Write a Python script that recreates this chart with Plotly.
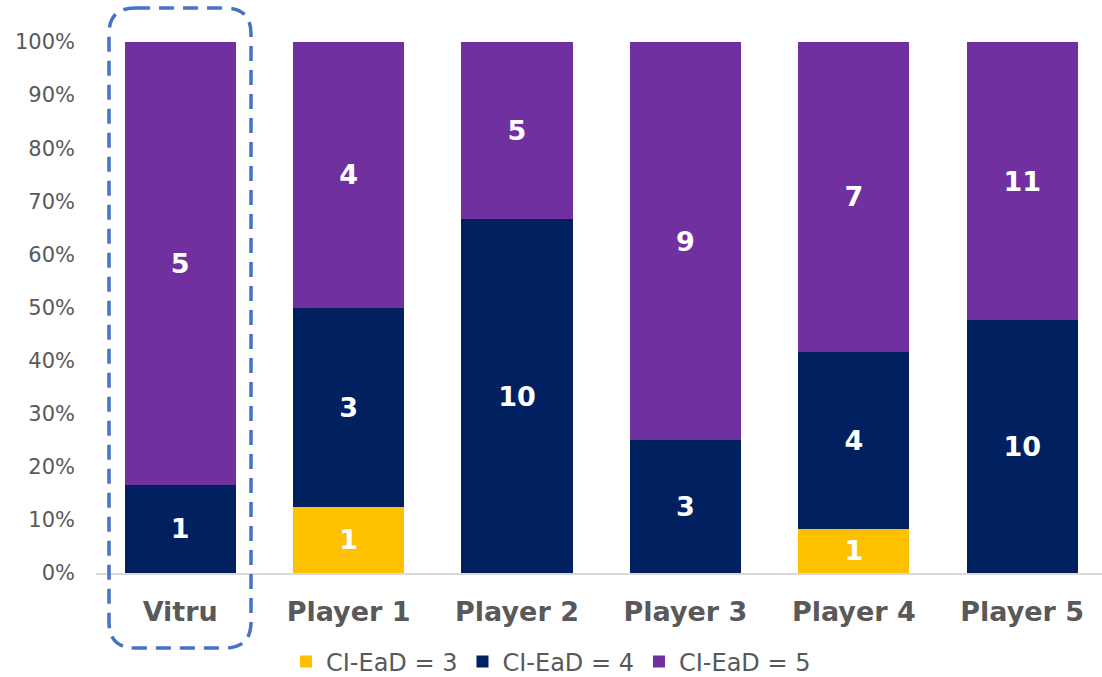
import plotly.graph_objects as go

categories = ["Vitru", "Player 1", "Player 2", "Player 3", "Player 4", "Player 5"]
series_names = ["CI-EaD = 3", "CI-EaD = 4", "CI-EaD = 5"]
ead3 = [0, 1, 0, 0, 1, 0]
ead4 = [1, 3, 10, 3, 4, 10]
ead5 = [5, 4, 5, 9, 7, 11]
y_ticks = [0, 10, 20, 30, 40, 50, 60, 70, 80, 90, 100]
y_tick_labels = [f"{v}%" for v in y_ticks]

colors = ["#FFC000", "#002060", "#7030A0"]
FONT = "DejaVu Sans"

W, H = 1102, 677
ML, MR, MT, MB = 96, 0, 42, 104
PW = W - ML - MR
PH = H - MT - MB
cat_px = 168.4

fig = go.Figure()
for name, vals, col in zip(series_names, [ead3, ead4, ead5], colors):
    fig.add_trace(go.Bar(
        x=categories, y=vals, name=name,
        marker=dict(color=col, line=dict(width=0)),
        text=[str(v) if v else "" for v in vals],
        textposition="inside", insidetextanchor="middle",
        textfont=dict(family=FONT, size=27, color="white", weight="bold"),
        textangle=0, constraintext="none",
        hoverinfo="skip",
    ))

# dashed rounded highlight box around the first category (pixel -> paper)
def P(x, y):
    return f"{(x - ML) / PW:.5f},{(H - MB - y) / PH:.5f}"

x0, x1, y0, y1, r = 109, 251, 8, 648, 26
path = (f"M {P(x0 + r, y0)} L {P(x1 - r, y0)} Q {P(x1, y0)} {P(x1, y0 + r)} "
        f"L {P(x1, y1 - r)} Q {P(x1, y1)} {P(x1 - r, y1)} "
        f"L {P(x0 + r, y1)} Q {P(x0, y1)} {P(x0, y1 - r)} "
        f"L {P(x0, y0 + r)} Q {P(x0, y0)} {P(x0 + r, y0)} Z")
fig.add_shape(type="path", xref="paper", yref="paper", path=path,
              line=dict(color="#4472C4", width=3.5, dash="15px,9px"), layer="above")

n_cats = PW / cat_px
fig.update_layout(
    barmode="stack", barnorm="percent", bargap=0.34,
    width=W, height=H,
    margin=dict(l=ML, r=MR, t=MT, b=MB, pad=0, autoexpand=False),
    paper_bgcolor="white", plot_bgcolor="white",
    font=dict(family=FONT, color="#595959"),
    showlegend=True,
    legend=dict(orientation="h", x=(W / 2 - ML) / PW, xanchor="center",
                y=(H - MB - 662) / PH, yanchor="middle",
                font=dict(family=FONT, size=24, color="#595959"),
                itemwidth=30, traceorder="normal"),
    xaxis=dict(range=[-0.5, -0.5 + n_cats], showgrid=False, zeroline=False,
               showline=True, linecolor="#D9D9D9", linewidth=2,
               ticks="", ticklabelstandoff=14,
               tickfont=dict(family=FONT, size=27, color="#595959", weight="bold")),
    yaxis=dict(range=[0, 100], tickvals=y_ticks, ticktext=y_tick_labels,
               showgrid=False, zeroline=False, showline=False, ticks="",
               ticklabelstandoff=20,
               tickfont=dict(family=FONT, size=21, color="#595959")),
)

fig.write_html("out.html")
